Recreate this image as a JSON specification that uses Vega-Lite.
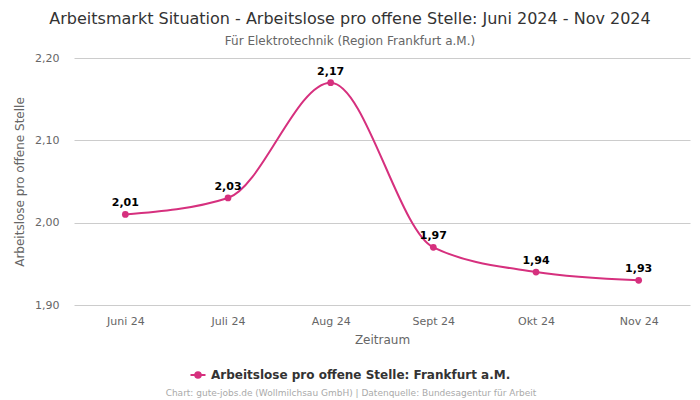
{
  "$schema": "https://vega.github.io/schema/vega-lite/v6.json",
  "width": 616,
  "height": 247,
  "autosize": {"type": "none"},
  "padding": {"left": 74, "top": 58, "right": 10, "bottom": 95},
  "background": "white",
  "config": {
    "font": "DejaVu Sans",
    "locale": {"number": {"decimal": ",", "thousands": ".", "grouping": [3], "currency": ["", " €"]}},
    "view": {"stroke": null}
  },
  "title": {
    "text": "Arbeitsmarkt Situation - Arbeitslose pro offene Stelle: Juni 2024 - Nov 2024",
    "subtitle": "Für Elektrotechnik (Region Frankfurt a.M.)",
    "anchor": "middle",
    "dx": -32,
    "fontSize": 16,
    "fontWeight": "normal",
    "color": "#333333",
    "subtitleFontSize": 12,
    "subtitleColor": "#666666",
    "subtitlePadding": 9,
    "offset": 5,
    "limit": 1000
  },
  "data": {
    "values": [
      {"monat": "Juni 24", "wert": 2.01, "serie": "Arbeitslose pro offene Stelle: Frankfurt a.M."},
      {"monat": "Juli 24", "wert": 2.03, "serie": "Arbeitslose pro offene Stelle: Frankfurt a.M."},
      {"monat": "Aug 24", "wert": 2.17, "serie": "Arbeitslose pro offene Stelle: Frankfurt a.M."},
      {"monat": "Sept 24", "wert": 1.97, "serie": "Arbeitslose pro offene Stelle: Frankfurt a.M."},
      {"monat": "Okt 24", "wert": 1.94, "serie": "Arbeitslose pro offene Stelle: Frankfurt a.M."},
      {"monat": "Nov 24", "wert": 1.93, "serie": "Arbeitslose pro offene Stelle: Frankfurt a.M."}
    ]
  },
  "encoding": {
    "x": {
      "field": "monat",
      "type": "ordinal",
      "sort": null,
      "scale": {"type": "point", "padding": 0.5},
      "axis": {
        "title": "Zeitraum",
        "labelAngle": 0,
        "labelColor": "#666666",
        "labelFontSize": 11,
        "labelPadding": 10,
        "titleColor": "#666666",
        "titleFontSize": 12,
        "titleFontWeight": "normal",
        "titlePadding": 8,
        "domain": false,
        "ticks": false,
        "grid": false
      }
    },
    "y": {
      "field": "wert",
      "type": "quantitative",
      "scale": {"domain": [1.9, 2.2], "zero": false, "nice": false},
      "axis": {
        "title": "Arbeitslose pro offene Stelle",
        "values": [1.9, 2.0, 2.1, 2.2],
        "format": ".2f",
        "labelColor": "#666666",
        "labelFontSize": 11,
        "labelPadding": 15,
        "titleColor": "#666666",
        "titleFontSize": 12,
        "titleFontWeight": "normal",
        "titlePadding": 8,
        "domain": false,
        "ticks": false,
        "gridColor": "#cccccc"
      }
    }
  },
  "layer": [
    {
      "mark": {"type": "line", "interpolate": "monotone", "strokeWidth": 2, "point": {"size": 45, "filled": true}},
      "encoding": {
        "color": {
          "field": "serie",
          "type": "nominal",
          "scale": {"range": ["#d6307e"]},
          "legend": {
            "orient": "none",
            "legendX": 92,
            "legendY": 311,
            "direction": "horizontal",
            "title": "Chart: gute-jobs.de (Wollmilchsau GmbH) | Datenquelle: Bundesagentur für Arbeit",
            "titleOrient": "bottom",
            "titleAnchor": "middle",
            "titleFontSize": 9,
            "titleFontWeight": "normal",
            "titleColor": "#aaaaaa",
            "titlePadding": 7,
            "titleLimit": 1000,
            "labelLimit": 1000,
            "labelOffset": 7,
            "labelFontSize": 12,
            "labelFontWeight": "bold",
            "labelColor": "#333333",
            "symbolType": "M-1.5,0L1.5,0M-0.55,0A0.55,0.55 0 1,1 0.55,0A0.55,0.55 0 1,1 -0.55,0",
            "symbolSize": 100,
            "symbolStrokeWidth": 2,
            "symbolFillColor": "#d6307e",
            "symbolStrokeColor": "#d6307e"
          }
        }
      }
    },
    {
      "mark": {"type": "text", "dy": -11, "fontWeight": "bold", "fontSize": 11, "color": "#000000"},
      "encoding": {
        "text": {"field": "wert", "type": "quantitative", "format": ".2f"}
      }
    }
  ]
}
